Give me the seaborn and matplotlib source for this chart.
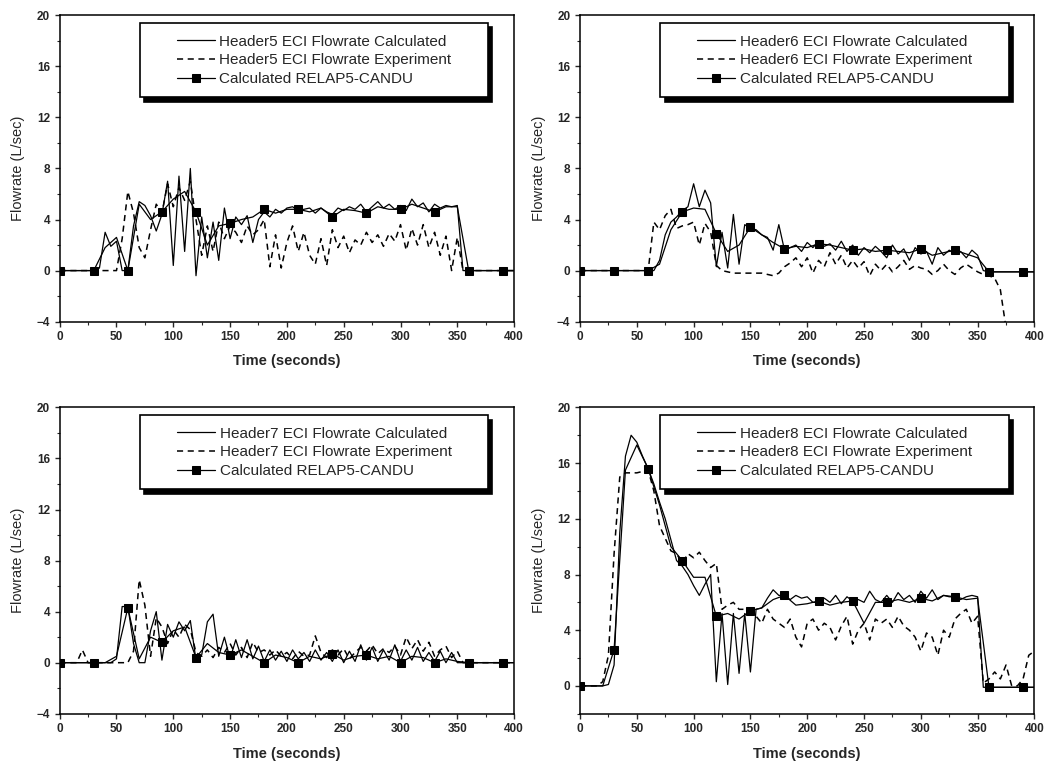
import seaborn as sns
import matplotlib.pyplot as plt
import pandas as pd
from matplotlib.path import Path
from matplotlib.ticker import MultipleLocator

sns.set_style("ticks")
plt.rcParams['font.family'] = ['Liberation Sans', 'DejaVu Sans']

# time grids (s): calculated/experiment every 5 s, RELAP5 every 10 s
t5 = list(range(0, 405, 5))
t10 = list(range(0, 410, 10))

headers = ["Header5", "Header6", "Header7", "Header8"]

# Header5 (L/sec)
h5_calc = [0, 0, 0, 0, 0, 0, 0, 0.2, 3.0, 1.9,
           2.3, 0, 0, 3.5, 5.4, 5.1, 4.3, 3.1, 4.4, 7.0,
           0.4, 7.4, 1.5, 8.0, -0.4, 4.2, 1.0, 3.8, 0.8, 4.9,
           2.5, 4.2, 3.6, 4.3, 2.2, 4.0, 4.6, 4.2, 4.8, 4.5,
           4.9, 5.0, 4.7, 4.8, 4.9, 4.5, 4.9, 4.6, 4.4, 4.9,
           4.7, 5.0, 4.8, 5.2, 4.6, 5.0, 5.4, 4.9, 5.2, 4.8,
           5.1, 4.7, 5.6, 5.0, 5.3, 4.6, 5.2, 4.9, 5.1, 5.0,
           5.1, 0, 0, 0, 0, 0, 0, 0, 0, 0,
           0]
h5_exp = [0, 0, 0, 0, 0, 0, 0, 0, 0, 0,
          0, 2.5, 6.2, 4.5, 1.8, 1.0, 3.2, 5.2, 4.5, 6.8,
          5.0, 6.5, 5.5, 7.0, 4.0, 1.2, 3.5, 1.5, 3.8, 2.5,
          3.5, 3.0, 2.2, 3.5, 2.8, 3.2, 4.0, 0.3, 2.8, 0.2,
          2.2, 3.5, 1.5, 3.0, 1.2, 0.5, 2.5, 0.4, 3.2, 1.8,
          2.7, 1.4, 2.4, 2.0, 3.0, 2.2, 2.8, 1.9, 2.9, 2.3,
          3.6, 1.6, 3.3, 2.0, 3.6, 1.8, 3.0, 1.2, 2.7, 0.0,
          2.6, 0, 0, 0, 0, 0, 0, 0, 0, 0,
          0]
h5_relap = [0, 0, 0, 0, 1.8, 2.6, 0, 5.2, 4.0, 4.6,
            5.6, 6.2, 4.6, 2.0, 3.5, 3.7, 4.0, 4.2, 4.8, 4.5,
            4.8, 4.8, 4.6, 4.9, 4.2, 4.8, 4.7, 4.5, 5.0, 4.8,
            4.8, 5.2, 4.9, 4.6, 5.0, 5.0, 0, 0, 0, 0,
            0]

# Header6
h6_calc = [0, 0, 0, 0, 0, 0, 0, 0, 0, 0,
           0, 0, 0, 0, 0.8, 2.8, 3.8, 4.2, 4.7, 5.0,
           6.8, 5.0, 6.3, 5.3, 0.3, 3.0, 0.2, 4.4, 0.5, 3.6,
           3.3, 3.2, 2.8, 2.6, 1.6, 3.6, 1.6, 1.8, 2.0, 1.5,
           2.2, 1.8, 2.3, 1.9, 2.1, 1.6, 2.3, 1.5, 2.0, 1.2,
           1.8, 1.4, 1.9, 1.5, 1.0, 2.0, 1.3, 1.7, 0.8, 1.8,
           1.3, 1.5, 0.5, 1.8, 1.2, 1.6, 1.3, 1.5, 1.0, 1.6,
           1.2, 0, -0.1, -0.1, -0.1, -0.1, -0.1, -0.1, -0.1, -0.1,
           -0.1]
h6_exp = [0, 0, 0, 0, 0, 0, 0, 0, 0, 0,
          0, 0, 0, 3.8, 3.2, 4.3, 4.8, 3.3, 3.5, 3.6,
          3.8, 2.0, 3.7, 3.0, 0.4, 0, -0.1, -0.2, -0.2, -0.2,
          -0.2, -0.2, -0.2, -0.3, -0.4, -0.2, 0.3, 0.6, 1.0, 0.3,
          1.0, -0.2, 0.8, 0.3, 1.4, 0.5, 1.2, 0.2, 0.8, 0.2,
          0.7, -0.4, 0.5, 0.0, 0.5, -0.1, 0.3, 0.8, 0.1, 0.4,
          0.2, 0.1, -0.3, 0.0, 0.5, 0.0, -0.3, 0.2, 0.5, 0.2,
          -0.1, -0.3, -0.4, -0.6, -1.5, -4.5, -6, -6, -6, -6,
          -6]
h6_relap = [0, 0, 0, 0, 0, 0, 0, 0.5, 3.2, 4.6,
            4.9, 4.8, 2.9, 1.5, 2.0, 3.4, 2.8, 2.2, 1.7, 1.9,
            1.8, 2.1, 2.0, 1.8, 1.6, 1.7, 1.5, 1.6, 1.5, 1.4,
            1.7, 1.2, 1.4, 1.6, 1.3, 1.0, -0.1, -0.1, -0.1, -0.1,
            -0.1]

# Header7
h7_calc = [0, 0, 0, 0, 0, 0, 0, 0, 0, 0,
           0.3, 4.4, 4.4, 1.5, 0, 0, 2.5, 4.0, 0.2, 3.0,
           2.0, 3.2, 2.5, 3.3, 0.2, 0.6, 3.2, 3.8, 0.5, 2.0,
           0.3, 1.8, 0.4, 1.8, 0.3, 1.3, 0.1, 1.0, 0.2, 0.9,
           0.1, 1.0, 0.3, 0.8, 0.1, 1.0, 0.2, 0.8, 0.1, 1.0,
           0.0, 0.9, 0.1, 1.4, 0.2, 1.2, 0.1, 1.0, 0.2, 1.4,
           0.1, 1.0, 0.2, 1.2, 0.1, 0.8, 0.1, 0.9, 0.0, 0.8,
           0, 0, 0, 0, 0, 0, 0, 0, 0, 0,
           0]
h7_exp = [0, 0, 0, 0, 1.0, 0, 0, 0, 0, 0,
          0, 0, 0, 0.9, 6.5, 4.5, 0.5, 3.5, 2.8, 1.5,
          2.6, 2.0, 3.0, 2.6, 0.8, 0.5, 1.0, 0.4, 1.2, 0.8,
          1.5, 0.6, 1.2, 0.4, 1.6, 0.8, 1.0, 0.6, 1.0, 0.5,
          0.8, 0.3, 0.9, 0.5, 0.6, 2.1, 0.8, 0.4, 1.0, 0.6,
          1.1, 0.3, 0.8, 1.2, 0.9, 1.4, 0.7, 1.1, 0.8, 1.3,
          0.6, 2.0, 1.1, 1.8, 0.9, 1.6, 0.5, 1.0, 1.3, 0.4,
          0.9, 0, 0, 0, 0, 0, 0, 0, 0, 0,
          0]
h7_relap = [0, 0, 0, 0, 0, 0.5, 4.3, 0.3, 2.0, 1.6,
            2.5, 2.8, 0.4, 1.5, 0.8, 0.6, 1.0, 0.5, 0.0, 0.6,
            0.4, 0.0, 0.5, 0.3, 0.7, 0.2, 0.5, 0.6, 0.3, 0.5,
            0.0, 0.5, 0.4, 0.0, 0.3, 0.1, 0, 0, 0, 0,
            0]

# Header8
h8_calc = [0, 0, 0, 0, 0, 0.1, 1.5, 11.0, 16.5, 18.0,
           17.5, 16.5, 15.6, 14.5, 13.2, 12.0, 10.5, 9.0, 8.6, 8.0,
           7.2, 6.5, 7.3, 8.0, 0.3, 5.2, 0.1, 5.2, 0.9, 5.2,
           1.0, 5.5, 5.6, 6.3, 6.9, 6.5, 6.5, 6.2, 6.5, 6.3,
           6.4, 6.0, 6.0, 6.3, 6.0, 6.5, 5.9, 6.4, 6.1, 6.2,
           6.0, 6.8, 6.2, 6.0, 6.5, 6.0, 6.7, 6.2, 6.5, 6.0,
           6.8, 6.3, 6.9, 6.2, 6.5, 6.4, 6.4, 6.2, 6.4, 6.5,
           6.4, -0.1, -0.1, -0.1, -0.1, -0.1, -0.1, -0.1, -0.1, -0.1,
           -0.1]
h8_exp = [0, 0, 0, 0, 0.3, 2.2, 9.5, 15.0, 15.3, 15.3,
          15.3, 15.4, 15.5, 14.0, 11.5, 10.6, 9.7, 9.5, 8.8, 9.5,
          9.2, 9.6, 9.0, 8.5, 8.8, 5.5, 5.8, 6.0, 5.5, 5.5,
          5.3, 5.0, 4.5, 5.5, 4.8, 4.5, 4.2, 4.8, 3.5, 2.8,
          4.5, 4.8, 4.0, 4.5, 4.2, 3.3, 4.3, 5.0, 3.0, 4.0,
          4.5, 3.3, 4.8, 4.5, 4.8, 4.2, 5.0, 4.3, 4.0, 3.5,
          2.5, 3.8, 3.5, 2.2, 4.0, 3.5, 4.8, 5.2, 5.5, 4.5,
          5.0, 0.2, 0.5, 1.0, 0.5, 1.5, 0, 0, 0.5, 2.2,
          2.5]
h8_relap = [0, 0, 0, 2.6, 15.5, 17.3, 15.6, 13.0, 10.0, 9.0,
            7.8, 7.8, 5.0, 5.2, 4.8, 5.4, 5.6, 6.2, 6.5, 5.8,
            5.9, 6.1, 5.8, 6.0, 6.1, 4.5, 6.0, 6.0, 6.2, 6.0,
            6.3, 6.1, 6.5, 6.4, 6.2, 6.3, -0.1, -0.1, -0.1, -0.1,
            -0.1]

panels = [(h5_calc, h5_exp, h5_relap), (h6_calc, h6_exp, h6_relap),
          (h7_calc, h7_exp, h7_relap), (h8_calc, h8_exp, h8_relap)]
ylims = [(-4, 20), (-4, 20), (-4, 20), (-2, 20)]


def wide_box(x0, y0, width, height, mutation_size):
    # Origin-style legend frame: more room left/right than top/bottom
    dx = 1.65 * mutation_size
    return Path([(x0 - dx, y0), (x0 + width + dx, y0), (x0 + width + dx, y0 + height),
                 (x0 - dx, y0 + height), (x0 - dx, y0)], closed=True)


fig, axes = plt.subplots(2, 2, figsize=(10.47, 7.65), dpi=100)
plt.subplots_adjust(left=0.057, right=0.988, top=0.98, bottom=0.067, wspace=0.145, hspace=0.28)

for ax, name, (calc, exp, relap), ylim in zip(axes.flat, headers, panels, ylims):
    df = pd.DataFrame({'t': t5, 'calc': calc, 'exp': exp})
    dr = pd.DataFrame({'t': t10, 'relap': relap})
    sns.lineplot(data=df, x='t', y='calc', ax=ax, color='black', lw=0.9,
                 label=f'{name} ECI Flowrate Calculated')
    sns.lineplot(data=df, x='t', y='exp', ax=ax, color='black', lw=1.1, ls=(0, (4, 3)),
                 label=f'{name} ECI Flowrate Experiment')
    sns.lineplot(data=dr, x='t', y='relap', ax=ax, color='black', lw=0.9, marker='s',
                 markersize=5.5, markevery=3, markeredgecolor='black',
                 label='Calculated RELAP5-CANDU')

    ax.set_xlim(0, 400)
    ax.set_ylim(*ylim)
    ax.xaxis.set_major_locator(MultipleLocator(50))
    ax.xaxis.set_minor_locator(MultipleLocator(25))
    ax.yaxis.set_major_locator(MultipleLocator(4))
    ax.yaxis.set_minor_locator(MultipleLocator(2))
    ax.tick_params(which='major', direction='out', length=3.5, width=1, labelsize=8.5)
    ax.tick_params(which='minor', direction='out', length=2, width=0.8)
    for lab in ax.get_xticklabels() + ax.get_yticklabels():
        lab.set_fontweight('bold')
    for sp in ax.spines.values():
        sp.set_linewidth(1.1)
        sp.set_color('black')

    ax.set_xlabel('Time (seconds)', fontsize=10.5, fontweight='bold', labelpad=8)
    ax.set_ylabel('Flowrate (L/sec)', fontsize=10.5, labelpad=8)

    leg = ax.legend(loc='upper center', bbox_to_anchor=(0.56, 0.974), borderaxespad=0,
                    fontsize=11, frameon=True, fancybox=False, framealpha=1, edgecolor='black',
                    shadow={'ox': 3, 'oy': -3, 'color': 'black', 'alpha': 1},
                    handlelength=2.5, handletextpad=0.3, labelspacing=0.3, borderpad=0.75)
    leg.get_frame().set_linewidth(1.2)
    leg.get_frame().set_boxstyle(wide_box)

plt.savefig('out.png', dpi=100)
